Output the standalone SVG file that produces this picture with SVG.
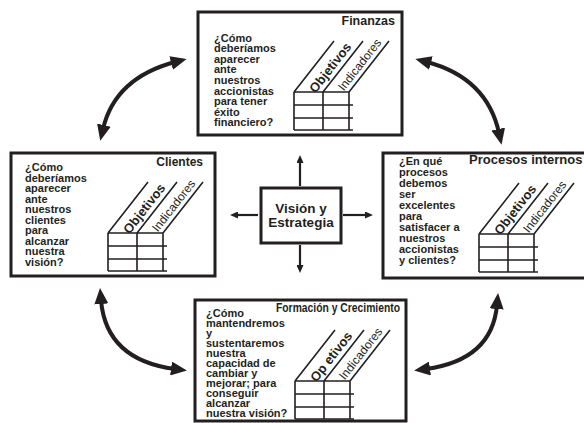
<svg xmlns="http://www.w3.org/2000/svg" width="584" height="423" viewBox="0 0 584 423">
<defs>
<style>
.box{fill:#fff;stroke:#231f20;stroke-width:3}
.body{font-family:"Liberation Sans",Arial,sans-serif;font-weight:bold;font-size:11px;fill:#231f20}
.title{font-family:"Liberation Sans",Arial,sans-serif;font-weight:bold;fill:#231f20}
.obj{font-family:"Liberation Sans",Arial,sans-serif;font-weight:bold;font-size:13px;fill:#231f20}
.ind{font-family:"Liberation Sans",Arial,sans-serif;font-weight:normal;font-size:12px;fill:#231f20}
.grid{stroke:#231f20;stroke-width:1.6;fill:none}
.curve{fill:none;stroke:#231f20;stroke-width:4;marker-start:url(#big);marker-end:url(#big)}
.ray{fill:none;stroke:#231f20;stroke-width:2.2;marker-end:url(#small)}
</style>
<marker id="big" viewBox="0 0 16 14" refX="4" refY="7" markerWidth="16" markerHeight="14" markerUnits="userSpaceOnUse" orient="auto-start-reverse">
<path d="M0,0 L16,7 L0,14 z" fill="#231f20"/>
</marker>
<marker id="small" viewBox="0 0 8 7" refX="2" refY="3.5" markerWidth="8" markerHeight="7" markerUnits="userSpaceOnUse" orient="auto">
<path d="M0,0 L8,3.5 L0,7 z" fill="#231f20"/>
</marker>
<g id="tbl">
<path class="grid" d="M0,0 H55 M0,13 H59 M0,26 H59 M0,38 H59 M0,0 V38 M29,0 V38 M55,0 V38 M0,0 l40,-51 M29,0 l40,-51 M55,0 l40,-51"/>
</g>
</defs>

<g id="connectors">
<path class="curve" d="M175,62 Q115,78 103,129"/>
<path class="curve" d="M427,62 Q487,78 499,133"/>
<path class="curve" d="M101,300 Q106,360 175,369"/>
<path class="curve" d="M426,369 Q492,360 497,305"/>
<path class="ray" d="M300,186 V161"/>
<path class="ray" d="M300,245 V267"/>
<path class="ray" d="M258,215 H236"/>
<path class="ray" d="M343,215 H367"/>
</g>

<g id="finanzas">
<rect class="box" x="198" y="12" width="204" height="123"/>
<text class="title" x="395" y="25" text-anchor="end" font-size="12.5">Finanzas</text>
<text class="body" x="214" y="41.5"><tspan x="214">¿Cómo</tspan><tspan x="214" dy="10.6">deberíamos</tspan><tspan x="214" dy="10.6">aparecer</tspan><tspan x="214" dy="10.6">ante</tspan><tspan x="214" dy="10.6">nuestros</tspan><tspan x="214" dy="10.6">accionistas</tspan><tspan x="214" dy="10.6">para tener</tspan><tspan x="214" dy="10.6">éxito</tspan><tspan x="214" dy="10.6">financiero?</tspan></text>
<use href="#tbl" x="294" y="92"/>
<g transform="translate(294,92) rotate(-52)"><text class="obj" x="12" y="18">Objetivos</text><text class="ind" x="31" y="39">Indicadores</text></g>
</g>

<g id="clientes">
<rect class="box" x="11" y="153" width="204" height="123"/>
<text class="title" x="203" y="166" text-anchor="end" font-size="12">Clientes</text>
<text class="body" x="25" y="171"><tspan x="25">¿Cómo</tspan><tspan x="25" dy="10.5">deberíamos</tspan><tspan x="25" dy="10.5">aparecer</tspan><tspan x="25" dy="10.5">ante</tspan><tspan x="25" dy="10.5">nuestros</tspan><tspan x="25" dy="10.5">clientes</tspan><tspan x="25" dy="10.5">para</tspan><tspan x="25" dy="10.5">alcanzar</tspan><tspan x="25" dy="10.5">nuestra</tspan><tspan x="25" dy="10.5">visión?</tspan></text>
<use href="#tbl" x="108" y="233"/>
<g transform="translate(108,233) rotate(-52)"><text class="obj" x="12" y="18">Objetivos</text><text class="ind" x="31" y="39">Indicadores</text></g>
</g>

<g id="procesos">
<rect class="box" x="383" y="153" width="205" height="125"/>
<text class="title" x="469" y="164" font-size="13">Procesos internos</text>
<text class="body" x="399" y="165"><tspan x="399">¿En qué</tspan><tspan x="399" dy="11">procesos</tspan><tspan x="399" dy="11">debemos</tspan><tspan x="399" dy="11">ser</tspan><tspan x="399" dy="11">excelentes</tspan><tspan x="399" dy="11">para</tspan><tspan x="399" dy="11">satisfacer a</tspan><tspan x="399" dy="11">nuestros</tspan><tspan x="399" dy="11">accionistas</tspan><tspan x="399" dy="11">y clientes?</tspan></text>
<use href="#tbl" x="479" y="234"/>
<g transform="translate(479,234) rotate(-52)"><text class="obj" x="12" y="18">Objetivos</text><text class="ind" x="31" y="39">Indicadores</text></g>
</g>

<g id="formacion">
<rect class="box" x="195" y="300" width="211" height="121"/>
<text class="title" x="276" y="312" font-size="12" textLength="124" lengthAdjust="spacingAndGlyphs">Formación y Crecimiento</text>
<text class="body" x="206" y="316.5" font-size="10.5"><tspan x="206">¿Cómo</tspan><tspan x="206" dy="10">mantendremos</tspan><tspan x="206" dy="10">y</tspan><tspan x="206" dy="10">sustentaremos</tspan><tspan x="206" dy="10">nuestra</tspan><tspan x="206" dy="10">capacidad de</tspan><tspan x="206" dy="10">cambiar y</tspan><tspan x="206" dy="10">mejorar; para</tspan><tspan x="206" dy="10">conseguir</tspan><tspan x="206" dy="10">alcanzar</tspan><tspan x="206" dy="10">nuestra visión?</tspan></text>
<use href="#tbl" x="295" y="381"/>
<g transform="translate(295,381) rotate(-52)"><text class="obj" x="12" y="18">Op etivos</text><text class="ind" x="31" y="39">Indicadores</text></g>
</g>

<g id="vision">
<rect class="box" x="261" y="188" width="80" height="55"/>
<text class="title" x="301" y="212.5" text-anchor="middle" font-size="13.5">Visión y</text>
<text class="title" x="301" y="226.5" text-anchor="middle" font-size="13.5">Estrategia</text>
</g>
</svg>
